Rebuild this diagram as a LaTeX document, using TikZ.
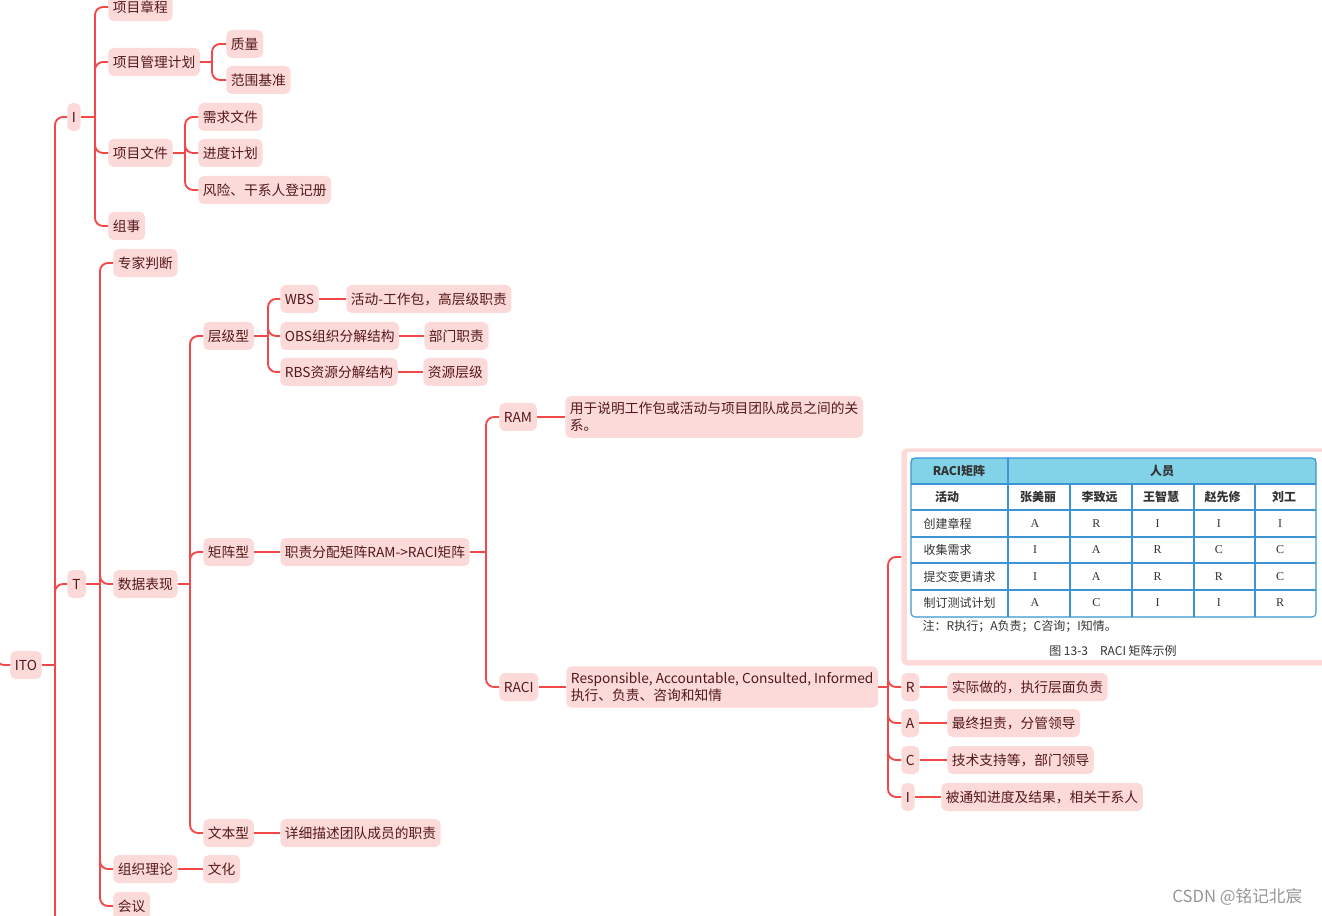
\documentclass[tikz,border=0pt]{standalone}
\usepackage{fontspec}
\setmainfont{Noto Sans CJK SC}
\newfontfamily\tabserif{Liberation Serif}
\usepackage{xcolor}
\usetikzlibrary{positioning,calc}
\definecolor{linkred}{RGB}{244,72,72}
\definecolor{topicbg}{RGB}{253,218,218}
\definecolor{topictext}{RGB}{84,24,24}
\definecolor{tablehead}{RGB}{130,210,232}
\definecolor{tableline}{RGB}{58,148,214}
\definecolor{markgray}{RGB}{150,150,150}

\begin{document}
\begin{tikzpicture}[
    x=0.75pt, y=-0.75pt,
    topic/.style={fill=topicbg, rounded corners=4pt, anchor=west, font=\fontsize{10.3}{12.75}\selectfont, text=topictext, inner xsep=3.5pt, inner ysep=3pt, minimum height=21pt},
    note/.style={topic, align=left, inner ysep=4.5pt},
    link/.style={draw=linkred, line width=1.4pt, rounded corners=6pt},
    cell/.style={font=\fontsize{9}{11}\selectfont, text=black!80},
    headcell/.style={cell, font=\fontsize{9}{11}\selectfont\bfseries},
    letter/.style={font=\tabserif\fontsize{9}{11}\selectfont, text=black!80}
]
    \useasboundingbox (0,0) rectangle (1322,916);
    \clip (0,0) rectangle (1322,916);

    % Root and first level
    \node[topic] (ito) at (10,665) {ITO};
    \node[topic] (i) at (67,117) {I};
    \node[topic, minimum width=14pt] (t) at (67,584) {T};

    % Inputs
    \node[topic] (charter) at (108,7) {项目章程};
    \node[topic] (pmplan) at (108,62) {项目管理计划};
    \node[topic] (quality) at (226,44) {质量};
    \node[topic] (scope) at (226,80) {范围基准};
    \node[topic] (pdocs) at (108,153) {项目文件};
    \node[topic] (reqdoc) at (198,117) {需求文件};
    \node[topic] (sched) at (198,153) {进度计划};
    \node[topic] (risk) at (198,190) {风险、干系人登记册};
    \node[topic] (orgp) at (108,226) {组事};

    % Tools and techniques
    \node[topic] (expert) at (113,263) {专家判断};
    \node[topic] (datarep) at (113,584) {数据表现};
    \node[topic] (orgth) at (113,869) {组织理论};
    \node[topic] (meet) at (113,906) {会议};
    \node[topic] (hier) at (203,336) {层级型};
    \node[topic] (matrix) at (203,552) {矩阵型};
    \node[topic] (textf) at (203,833) {文本型};
    \node[topic] (culture) at (203,869) {文化};
    \node[topic] (wbs) at (280,299) {WBS};
    \node[topic] (obs) at (280,336) {OBS组织分解结构};
    \node[topic] (rbs) at (280,372) {RBS资源分解结构};
    \node[topic] (wbsd) at (346,299) {活动-工作包，高层级职责};
    \node[topic] (obsd) at (424,336) {部门职责};
    \node[topic] (rbsd) at (423,372) {资源层级};
    \node[topic] (ramraci) at (280,552) {职责分配矩阵RAM->RACI矩阵};
    \node[topic] (textd) at (280,833) {详细描述团队成员的职责};

    % RAM / RACI
    \node[topic] (ram) at (499,417) {RAM};
    \node[note] (ramd) at (565,417) {用于说明工作包或活动与项目团队成员之间的关\\系。};
    \node[topic] (raci) at (499,687) {RACI};
    \node[note] (racid) at (566,687) {Responsible, Accountable, Consulted, Informed\\执行、负责、咨询和知情};
    \node[fill=topicbg, rounded corners=4pt, anchor=west, minimum width=330pt, minimum height=162.75pt, inner sep=0pt] (tbl) at (901,557) {};
    \node[topic] (rr) at (901,687) {R};
    \node[topic] (ra) at (901,723) {A};
    \node[topic] (rc) at (901,760) {C};
    \node[topic] (ri) at (901,797) {I};
    \node[topic] (rrd) at (947,687) {实际做的，执行层面负责};
    \node[topic] (rad) at (947,723) {最终担责，分管领导};
    \node[topic] (rcd) at (947,760) {技术支持等，部门领导};
    \node[topic] (rid) at (941,797) {被通知进度及结果，相关干系人};

    % Junction points
    \coordinate (rootOff) at (-4,640);
    \coordinate (oOff) at (55,930);
    \coordinate (itoJ) at (55,665);
    \coordinate (iJ) at (95,117);
    \coordinate (pmJ) at (212,62);
    \coordinate (pfJ) at (185,153);
    \coordinate (tJ) at (100,584);
    \coordinate (dJ) at (190,584);
    \coordinate (hJ) at (268,336);
    \coordinate (mJ) at (486,552);
    \coordinate (rJ) at (888,687);

    % Branches
    \draw[link] (rootOff) |- (ito.west);
    \draw[link] (ito.east) -- (itoJ);
    \draw[link] (itoJ) -- (oOff);
    \foreach \kid in {i,t} \draw[link] (itoJ) |- (\kid.west);
    \draw[link] (i.east) -- (iJ);
    \foreach \kid in {charter,pmplan,pdocs,orgp} \draw[link] (iJ) |- (\kid.west);
    \draw[link] (pmplan.east) -- (pmJ);
    \foreach \kid in {quality,scope} \draw[link] (pmJ) |- (\kid.west);
    \draw[link] (pdocs.east) -- (pfJ);
    \foreach \kid in {reqdoc,sched,risk} \draw[link] (pfJ) |- (\kid.west);
    \draw[link] (t.east) -- (tJ);
    \foreach \kid in {expert,datarep,orgth,meet} \draw[link] (tJ) |- (\kid.west);
    \draw[link] (datarep.east) -- (dJ);
    \foreach \kid in {hier,matrix,textf} \draw[link] (dJ) |- (\kid.west);
    \draw[link] (hier.east) -- (hJ);
    \foreach \kid in {wbs,obs,rbs} \draw[link] (hJ) |- (\kid.west);
    \draw[link] (ramraci.east) -- (mJ);
    \foreach \kid in {ram,raci} \draw[link] (mJ) |- (\kid.west);
    \draw[link] (racid.east) -- (rJ);
    \foreach \kid in {tbl,rr,ra,rc,ri} \draw[link] (rJ) |- (\kid.west);
    \foreach \a/\b in {wbs/wbsd,obs/obsd,rbs/rbsd,matrix/ramraci,textf/textd,orgth/culture,ram/ramd,raci/racid,rr/rrd,ra/rad,rc/rcd,ri/rid}
        \draw[link] (\a.east) -- (\b.west);

    % RACI matrix picture
    \fill[white] (907,452) rectangle (1330,660);
    \fill[tablehead] (911,458) rectangle (1316,484);
    \begin{scope}[draw=tableline, line width=0.8pt]
        \draw[rounded corners=3pt] (911,458) rectangle (1316,617);
        \foreach \yy in {484,510,537,563,590} \draw (911,\yy) -- (1316,\yy);
        \draw (1008,458) -- (1008,617);
        \foreach \xx in {1070,1132,1194,1255} \draw (\xx,484) -- (\xx,617);
    \end{scope}
    \node[headcell] (hraci) at (959,471) {RACI矩阵};
    \node[headcell] (hstaff) at (1162,471) {人员};
    \node[headcell] (hact) at (947,497) {活动};
    \foreach \who [count=\k] in {张美丽,李致远,王智慧,赵先修,刘工}
        \node[headcell] (who\k) at ({1038+61.5*(\k-1)},497) {\who};
    \foreach \lbl/\yy/\marks in {创建章程/524/{A,R,I,I,I},收集需求/550/{I,A,R,C,C},提交变更请求/577/{I,A,R,R,C},制订测试计划/603/{A,C,I,I,R}} {
        \node[cell, anchor=west] (row\yy) at (919,\yy) {\lbl};
        \foreach \v [count=\k] in \marks
            \node[letter] (m\yy\k) at ({1035+61.3*(\k-1)},\yy) {\v};
    }
    \node[cell, anchor=west] (tblnote) at (918,626) {注：R执行；A负责；C咨询；I知情。};
    \node[cell] (tblcap) at (1113,651) {图 13-3\quad RACI 矩阵示例};

    % Watermark
    \node[anchor=east, text=markgray, font=\fontsize{12.5}{14}\selectfont] (mark) at (1307,897) {CSDN @铭记北宸};
\end{tikzpicture}
\end{document}
